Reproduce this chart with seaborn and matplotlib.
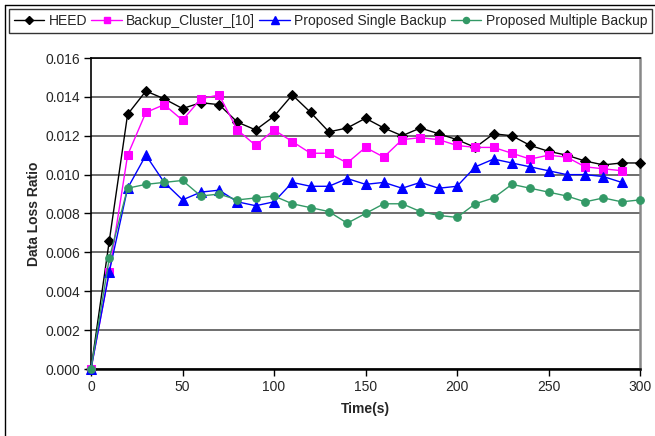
import numpy as np
import pandas as pd
import matplotlib
matplotlib.use("Agg")
import matplotlib.pyplot as plt
from matplotlib.lines import Line2D
from matplotlib.ticker import FormatStrFormatter
import seaborn as sns

time_s = list(range(0, 301, 10))
heed = [0, 0.0066, 0.0131, 0.0143, 0.0139, 0.0134, 0.0137, 0.0136, 0.0127, 0.0123,
        0.0130, 0.0141, 0.0132, 0.0122, 0.0124, 0.0129, 0.0124, 0.0120, 0.0124, 0.0121,
        0.0118, 0.0114, 0.0121, 0.0120, 0.0115, 0.0112, 0.0110, 0.0107, 0.0105, 0.0106, 0.0106]
backup_cluster = [0, 0.0050, 0.0110, 0.0132, 0.0136, 0.0128, 0.0139, 0.0141, 0.0123, 0.0115,
                  0.0123, 0.0117, 0.0111, 0.0111, 0.0106, 0.0114, 0.0109, 0.0118, 0.0119, 0.0118,
                  0.0115, 0.0114, 0.0114, 0.0111, 0.0108, 0.0110, 0.0109, 0.0104, 0.0103, 0.0102, np.nan]
single_backup = [0, 0.0050, 0.0093, 0.0110, 0.0096, 0.0087, 0.0091, 0.0092, 0.0086, 0.0084,
                 0.0086, 0.0096, 0.0094, 0.0094, 0.0098, 0.0095, 0.0096, 0.0093, 0.0096, 0.0093,
                 0.0094, 0.0104, 0.0108, 0.0106, 0.0104, 0.0102, 0.0100, 0.0100, 0.0099, 0.0096, np.nan]
multiple_backup = [0, 0.0057, 0.0093, 0.0095, 0.0096, 0.0097, 0.0089, 0.0090, 0.0087, 0.0088,
                   0.0089, 0.0085, 0.0083, 0.0081, 0.0075, 0.0080, 0.0085, 0.0085, 0.0081, 0.0079,
                   0.0078, 0.0085, 0.0088, 0.0095, 0.0093, 0.0091, 0.0089, 0.0086, 0.0088, 0.0086, 0.0087]

series_names = ["HEED", "Backup_Cluster_[10]", "Proposed Single Backup", "Proposed Multiple Backup"]
series_values = [heed, backup_cluster, single_backup, multiple_backup]
colors = ["#000000", "#FF00FF", "#0000FF", "#339966"]
markers = ["D", "s", "^", "o"]
msizes = [5, 6, 6.5, 5.5]

x_ticks = [0, 50, 100, 150, 200, 250, 300]
y_ticks = [0.000, 0.002, 0.004, 0.006, 0.008, 0.010, 0.012, 0.014, 0.016]

sns.set_style("white")
plt.rcParams["font.family"] = ["Liberation Sans", "DejaVu Sans"]

fig = plt.figure(figsize=(6.55, 4.36), dpi=100)
ax = fig.add_axes([91/655, 1-369/436, (640-91)/655, (369-58)/436])

for name, vals, c, m, ms in zip(series_names, series_values, colors, markers, msizes):
    df = pd.DataFrame({"t": time_s, "v": vals}).dropna()
    sns.lineplot(data=df, x="t", y="v", ax=ax, color=c, marker=m, markersize=ms,
                 markeredgecolor=c, markerfacecolor=c, linewidth=1.0, label=name,
                 clip_on=False, zorder=3)

ax.set_xlim(0, 300)
ax.set_ylim(0, 0.016)
ax.set_xticks(x_ticks)
ax.set_yticks(y_ticks)
ax.yaxis.set_major_formatter(FormatStrFormatter("%.3f"))
ax.grid(axis="y", color="#555555", linewidth=1.2)
ax.grid(axis="x", visible=False)
ax.set_axisbelow(True)

for s in ["left", "bottom"]:
    ax.spines[s].set_color("black")
    ax.spines[s].set_linewidth(1.2)
ax.spines["bottom"].set_linewidth(1.8)
ax.spines["top"].set_color("black")
ax.spines["top"].set_linewidth(1.2)
ax.spines["right"].set_color("#888888")
ax.spines["right"].set_linewidth(1.8)

ax.tick_params(axis="both", direction="out", length=5, width=1, color="black",
               labelsize=10, pad=3, left=True, bottom=True)
ax.set_xlabel("Time(s)", fontsize=10, fontweight="bold", labelpad=6)
ax.set_ylabel("Data Loss Ratio", fontsize=10, fontweight="bold", labelpad=3)

ax.get_legend().remove()
handles = [Line2D([], [], color=c, marker=m, markersize=ms*0.8, linewidth=1.0)
           for c, m, ms in zip(colors, markers, msizes)]
leg = fig.legend(handles, series_names, loc="upper left",
                 bbox_to_anchor=(9/655, 1-34/436, 643/655, 25/436), mode="expand",
                 ncol=4, fontsize=10, frameon=True, fancybox=False, borderaxespad=0,
                 handlelength=2.2, handletextpad=0.3, columnspacing=0.5, borderpad=0.35)
leg.get_frame().set_edgecolor("black")
leg.get_frame().set_linewidth(1.0)

# outer chart frame (left and top edges visible)
fig.add_artist(Line2D([5/655, 5/655], [0, 1-5/436], transform=fig.transFigure, color="black", lw=1.0))
fig.add_artist(Line2D([5/655, 1], [1-5/436, 1-5/436], transform=fig.transFigure, color="black", lw=1.0))

fig.savefig("out.png", dpi=100)
